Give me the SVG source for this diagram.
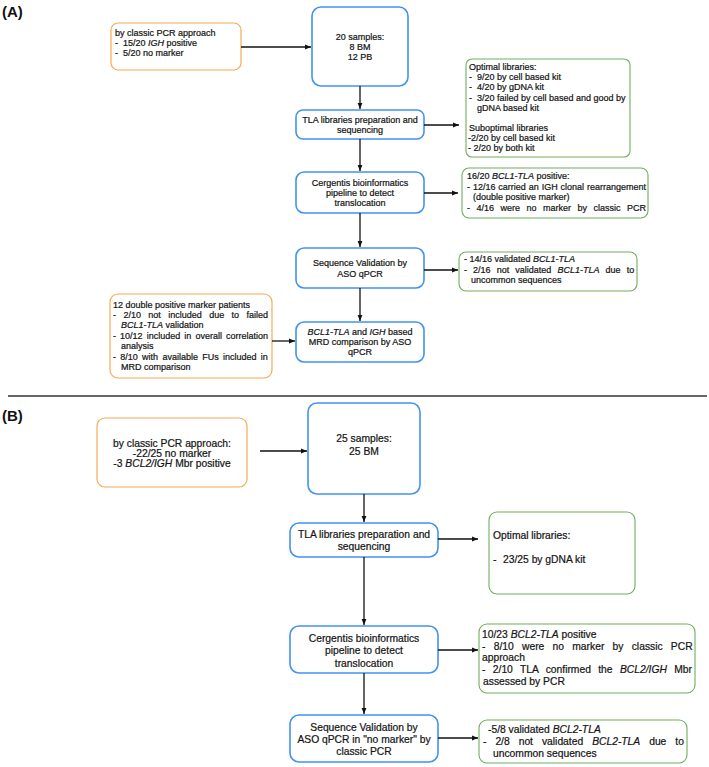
<svg xmlns="http://www.w3.org/2000/svg" width="709" height="767" viewBox="0 0 709 767">
<style>
.t{font-family:"Liberation Sans",Arial,sans-serif;fill:#151515;stroke:#151515;stroke-width:0.22}
.a{font-size:9px}
.b{font-size:10.3px}
.c{text-anchor:middle}
.i{font-style:italic}
.lbl{font-family:"Liberation Sans",Arial,sans-serif;font-weight:bold;font-size:15px;fill:#111}
.blue{fill:#fff;stroke:#4193f2;stroke-width:1.6}
.orange{fill:#fff;stroke:#f5aa55;stroke-width:1.2}
.green{fill:#fff;stroke:#72ad5e;stroke-width:1.1}
.conn line{stroke:#111;stroke-width:1.3;marker-end:url(#arr)}
</style>
<defs>
<marker id="arr" viewBox="0 0 10 10" refX="10" refY="5" markerWidth="6" markerHeight="6" markerUnits="userSpaceOnUse" orient="auto">
<path d="M0,1 L10,5 L0,9 z" fill="#111"/>
</marker>
</defs>
<rect width="709" height="767" fill="#fff"/>

<text class="lbl" x="2" y="17">(A)</text>
<text class="lbl" x="2" y="421">(B)</text>
<line x1="8" y1="396" x2="707" y2="396" stroke="#333" stroke-width="1.5"/>

<!-- Panel A -->
<g id="a-pcr">
<rect class="orange" x="111" y="23" width="130" height="47" rx="7"/>
<text class="t a" x="115" y="36">by classic PCR approach</text>
<text class="t a" x="115" y="46">-</text><text class="t a" x="123" y="46">15/20 <tspan class="i">IGH</tspan> positive</text>
<text class="t a" x="115" y="56">-</text><text class="t a" x="123" y="56">5/20 no marker</text>
</g>
<g id="a-samples">
<rect class="blue" x="312" y="7" width="96" height="79" rx="9"/>
<text class="t a c" x="360" y="40">20 samples:</text>
<text class="t a c" x="360" y="50">8 BM</text>
<text class="t a c" x="360" y="60">12 PB</text>
</g>
<g id="a-tla">
<rect class="blue" x="296" y="110" width="128" height="29" rx="7"/>
<text class="t a c" x="360" y="123">TLA libraries preparation and</text>
<text class="t a c" x="360" y="133">sequencing</text>
</g>
<g id="a-optimal">
<rect class="green" x="466" y="59" width="164" height="98" rx="6"/>
<text class="t a" x="469" y="70">Optimal libraries:</text>
<text class="t a" x="469" y="80">-</text><text class="t a" x="477" y="80">9/20 by cell based kit</text>
<text class="t a" x="469" y="90">-</text><text class="t a" x="477" y="90">4/20 by gDNA kit</text>
<text class="t a" x="469" y="101">-</text><text class="t a" x="477" y="101">3/20 failed by cell based and good by</text>
<text class="t a" x="477" y="111">gDNA based kit</text>
<text class="t a" x="469" y="131">Suboptimal libraries</text>
<text class="t a" x="468" y="141">-2/20 by cell based kit</text>
<text class="t a" x="468" y="151">- 2/20 by both kit</text>
</g>
<g id="a-cergentis">
<rect class="blue" x="296" y="172" width="128" height="41" rx="8"/>
<text class="t a c" x="360" y="186">Cergentis bioinformatics</text>
<text class="t a c" x="360" y="196">pipeline to detect</text>
<text class="t a c" x="360" y="206">translocation</text>
</g>
<g id="a-bcl1pos">
<rect class="green" x="462" y="168" width="186" height="50" rx="7"/>
<text class="t a" x="467" y="179">16/20 <tspan class="i">BCL1-TLA</tspan> positive:</text>
<text class="t a" x="467" y="190" word-spacing="0.4">- 12/16 carried an IGH clonal rearrangement</text>
<text class="t a" x="473" y="200">(double positive marker)</text>
<text class="t a" x="467" y="211" word-spacing="4">- 4/16 were no marker by classic PCR</text>
</g>
<g id="a-seqval">
<rect class="blue" x="296" y="248" width="128" height="40" rx="8"/>
<text class="t a c" x="360" y="266">Sequence Validation by</text>
<text class="t a c" x="360" y="277">ASO qPCR</text>
</g>
<g id="a-valid">
<rect class="green" x="459" y="252" width="178" height="39" rx="7"/>
<text class="t a" x="464" y="262">- 14/16 validated <tspan class="i">BCL1-TLA</tspan></text>
<text class="t a" x="464" y="273" word-spacing="3.6">- 2/16 not validated <tspan class="i">BCL1-TLA</tspan> due to</text>
<text class="t a" x="471" y="283">uncommon sequences</text>
</g>
<g id="a-mrd">
<rect class="blue" x="296" y="322" width="128" height="40" rx="8"/>
<text class="t a c" x="360" y="335"><tspan class="i">BCL1-TLA</tspan> and <tspan class="i">IGH</tspan> based</text>
<text class="t a c" x="360" y="345">MRD comparison by ASO</text>
<text class="t a c" x="360" y="355">qPCR</text>
</g>
<g id="a-double">
<rect class="orange" x="110" y="294" width="162" height="84" rx="8"/>
<text class="t a" x="113" y="308">12 double positive marker patients</text>
<text class="t a" x="113" y="318" word-spacing="4.9">- 2/10 not included due to failed</text>
<text class="t a" x="121" y="328"><tspan class="i">BCL1-TLA</tspan> validation</text>
<text class="t a" x="113" y="339" word-spacing="1.6">- 10/12 included in overall correlation</text>
<text class="t a" x="121" y="349">analysis</text>
<text class="t a" x="113" y="360" word-spacing="1.8">- 8/10 with available FUs included in</text>
<text class="t a" x="121" y="370">MRD comparison</text>
</g>

<!-- Panel B -->
<g id="b-pcr">
<rect class="orange" x="97" y="418" width="150" height="69" rx="8"/>
<text class="t b c" x="172" y="446.5">by classic PCR approach:</text>
<text class="t b c" x="172" y="456.5">-22/25 no marker</text>
<text class="t b c" x="172" y="466.5">-3 <tspan class="i">BCL2/IGH</tspan> Mbr positive</text>
</g>
<g id="b-samples">
<rect class="blue" x="308" y="403" width="112" height="91" rx="9"/>
<text class="t b c" x="364" y="441.5">25 samples:</text>
<text class="t b c" x="364" y="455">25 BM</text>
</g>
<g id="b-tla">
<rect class="blue" x="290" y="523" width="148" height="34" rx="9"/>
<text class="t b c" x="364" y="538">TLA libraries preparation and</text>
<text class="t b c" x="364" y="550">sequencing</text>
</g>
<g id="b-optimal">
<rect class="green" x="489" y="512" width="146" height="82" rx="8"/>
<text class="t b" x="493" y="539">Optimal libraries:</text>
<text class="t b" x="493" y="563">-</text><text class="t b" x="503" y="563">23/25 by gDNA kit</text>
</g>
<g id="b-cergentis">
<rect class="blue" x="290" y="626" width="148" height="47" rx="9"/>
<text class="t b c" x="364" y="641.5">Cergentis bioinformatics</text>
<text class="t b c" x="364" y="654">pipeline to detect</text>
<text class="t b c" x="364" y="666.5">translocation</text>
</g>
<g id="b-bcl2pos">
<rect class="green" x="479" y="624" width="216" height="69" rx="8"/>
<text class="t b" x="482" y="637.5">10/23 <tspan class="i">BCL2-TLA</tspan> positive</text>
<text class="t b" x="482" y="649.5" word-spacing="5.4">- 8/10 were no marker by classic PCR</text>
<text class="t b" x="482" y="660.5">approach</text>
<text class="t b" x="482" y="673" word-spacing="4.5">- 2/10 TLA confirmed the <tspan class="i">BCL2/IGH</tspan> Mbr</text>
<text class="t b" x="483" y="685">assessed by PCR</text>
</g>
<g id="b-seqval">
<rect class="blue" x="290" y="715" width="148" height="47" rx="9"/>
<text class="t b c" x="364" y="731">Sequence Validation by</text>
<text class="t b c" x="364" y="743">ASO qPCR in "no marker" by</text>
<text class="t b c" x="364" y="754.5">classic PCR</text>
</g>
<g id="b-valid">
<rect class="green" x="479" y="720" width="208" height="43" rx="8"/>
<text class="t b" x="488" y="732.5">-5/8 validated <tspan class="i">BCL2-TLA</tspan></text>
<text class="t b" x="483" y="744.5" word-spacing="6.1">- 2/8 not validated <tspan class="i">BCL2-TLA</tspan> due to</text>
<text class="t b" x="493" y="756.5">uncommon sequences</text>
</g>

<g id="connectors" class="conn">
<line x1="241" y1="47" x2="311" y2="47"/>
<line x1="360" y1="86" x2="360" y2="109"/>
<line x1="424" y1="125" x2="459" y2="125"/>
<line x1="360" y1="139" x2="360" y2="171"/>
<line x1="424" y1="193" x2="458" y2="193"/>
<line x1="360" y1="213" x2="360" y2="247"/>
<line x1="424" y1="270" x2="458" y2="270"/>
<line x1="360" y1="288" x2="360" y2="321"/>
<line x1="272" y1="341" x2="295" y2="341"/>
<line x1="260" y1="451" x2="307" y2="451"/>
<line x1="364" y1="494" x2="364" y2="522"/>
<line x1="438" y1="539" x2="478" y2="539"/>
<line x1="364" y1="557" x2="364" y2="625"/>
<line x1="438" y1="650" x2="478" y2="650"/>
<line x1="364" y1="673" x2="364" y2="714"/>
<line x1="438" y1="738" x2="478" y2="738"/>
</g>
</svg>
